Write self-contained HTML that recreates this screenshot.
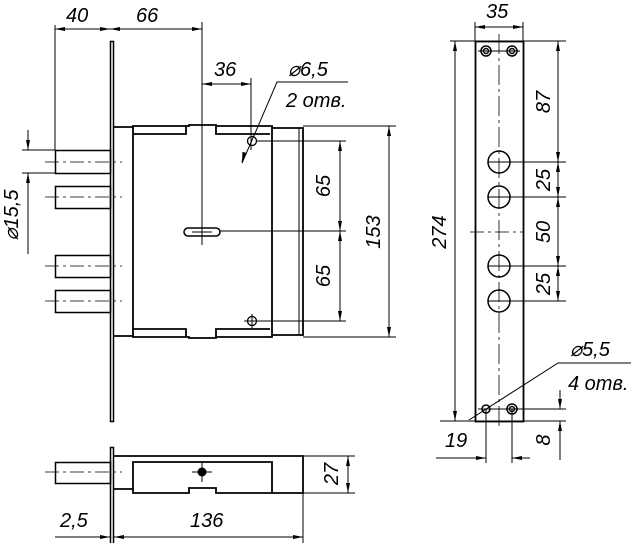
<!DOCTYPE html>
<html><head><meta charset="utf-8"><style>
html,body{margin:0;padding:0;background:#fff;}
svg{display:block}
text{font-family:"Liberation Sans",sans-serif;font-style:italic;font-size:20px;fill:#000;}
</style></head><body>
<svg width="631" height="543" viewBox="0 0 631 543" xmlns="http://www.w3.org/2000/svg">
<defs>
<marker id="a" viewBox="0 0 10 4" refX="10" refY="2" markerWidth="10" markerHeight="4" orient="auto-start-reverse" markerUnits="userSpaceOnUse"><path d="M0,0L10,2L0,4z" fill="#000"/></marker>
</defs>
<g fill="none" stroke="#000" stroke-width="1">
<!-- main plate -->
<rect x="110.5" y="41.5" width="3" height="380" stroke-width="1.5"/>
<!-- bolts -->
<rect x="55.5" y="150.5" width="55" height="23" stroke-width="1.5"/>
<rect x="55.5" y="186.5" width="55" height="22" stroke-width="1.5"/>
<rect x="55.5" y="255.5" width="55" height="22" stroke-width="1.5"/>
<rect x="55.5" y="290.5" width="55" height="22" stroke-width="1.5"/>
<g stroke-dasharray="14,4,3,4" stroke-width="0.8">
<line x1="45" y1="162" x2="122" y2="162"/><line x1="45" y1="197" x2="122" y2="197"/>
<line x1="45" y1="266" x2="122" y2="266"/><line x1="45" y1="301" x2="122" y2="301"/>
</g>
<!-- body -->
<g stroke-width="1.8">
<line x1="114" y1="127" x2="133" y2="127"/><line x1="114" y1="336" x2="133" y2="336"/>
<path d="M133,337V126H189V125H216V126H272V337H216V338H189V337Z"/>
<path d="M133,134H186V126M216,126V134H270"/>
<path d="M133,329H186V337M216,337V329H270"/>
<path d="M272,128H303V335H272"/>
<line x1="299" y1="128" x2="299" y2="335" stroke-width="1"/>
</g>
<!-- keyhole -->
<rect x="184" y="228" width="36" height="8" rx="4" stroke-width="1.5"/>
<path d="M192,232H212" stroke-width="1"/>
<circle cx="252" cy="141" r="4.5" stroke-width="1.3"/>
<circle cx="252" cy="321" r="4.5" stroke-width="1.3"/>
<line x1="244" y1="321" x2="262" y2="321"/><line x1="252" y1="314" x2="252" y2="328"/>
<!-- dims top -->
<line x1="55" y1="25" x2="55" y2="150"/>
<line x1="202" y1="22" x2="202" y2="245"/>
<line x1="55" y1="29" x2="110" y2="29" marker-start="url(#a)" marker-end="url(#a)"/>
<line x1="110" y1="29" x2="202" y2="29" marker-start="url(#a)" marker-end="url(#a)"/>
<line x1="251" y1="78" x2="251" y2="150"/>
<line x1="202" y1="84" x2="251" y2="84" marker-start="url(#a)" marker-end="url(#a)"/>
<path d="M242,163L256,131M256,131L277,82H348"/>
<path d="M244,154L242,162" marker-end="url(#a)"/>
<!-- 15.5 -->
<line x1="22" y1="150" x2="55" y2="150"/><line x1="22" y1="173" x2="55" y2="173"/>
<line x1="28" y1="130" x2="28" y2="150" marker-end="url(#a)"/>
<line x1="28" y1="254" x2="28" y2="173" marker-end="url(#a)"/>
<!-- 65/153 -->
<line x1="256" y1="141" x2="346" y2="141"/><line x1="220" y1="231" x2="346" y2="231"/><line x1="256" y1="321" x2="346" y2="321"/>
<line x1="340" y1="141" x2="340" y2="231" marker-start="url(#a)" marker-end="url(#a)"/>
<line x1="340" y1="231" x2="340" y2="321" marker-start="url(#a)" marker-end="url(#a)"/>
<line x1="303" y1="126" x2="396" y2="126"/><line x1="303" y1="337" x2="396" y2="337"/>
<line x1="389" y1="126" x2="389" y2="337" marker-start="url(#a)" marker-end="url(#a)"/>
<!-- bottom view -->
<rect x="110.5" y="447.5" width="3" height="100" stroke-width="1.5"/>
<g stroke-width="1.8">
<path d="M114,456H303V493H272"/>
<path d="M114,489H133"/>
<path d="M133,462H272V493H216V488H189V493H133Z"/>
</g>
<rect x="55.5" y="462.5" width="55" height="21" stroke-width="1.5"/>
<line x1="45" y1="472" x2="122" y2="472" stroke-dasharray="14,4,3,4" stroke-width="0.8"/>
<circle cx="202" cy="472" r="4" fill="#000"/>
<line x1="192" y1="472" x2="212" y2="472"/><line x1="202" y1="462" x2="202" y2="482"/>
<line x1="303" y1="456" x2="355" y2="456"/><line x1="303" y1="493" x2="355" y2="493"/>
<line x1="348" y1="456" x2="348" y2="493" marker-start="url(#a)" marker-end="url(#a)"/>
<line x1="303" y1="493" x2="303" y2="543"/>
<line x1="55" y1="537" x2="110" y2="537" marker-end="url(#a)"/>
<line x1="114" y1="537" x2="303" y2="537" marker-start="url(#a)" marker-end="url(#a)"/>
<!-- strip -->
<rect x="475.5" y="41.5" width="48" height="380" stroke-width="1.8"/>
<line x1="499" y1="34" x2="499" y2="428" stroke-dasharray="20,4,3,4" stroke-width="0.8"/>
<line x1="470" y1="232" x2="523" y2="232" stroke-dasharray="14,4,3,4" stroke-width="0.8"/>
<g stroke-width="1.5">
<circle cx="486" cy="51" r="5"/><circle cx="486" cy="51" r="2.5"/>
<circle cx="512" cy="51" r="5"/><circle cx="512" cy="51" r="2.5"/>
<circle cx="486" cy="409" r="4"/>
<circle cx="512" cy="409" r="5"/><circle cx="512" cy="409" r="2.5"/>
<circle cx="499" cy="162" r="11"/><circle cx="499" cy="197" r="11"/>
<circle cx="499" cy="266" r="11"/><circle cx="499" cy="301" r="11"/>
</g>
<line x1="478" y1="51" x2="520" y2="51"/><line x1="478" y1="409" x2="566" y2="409"/>
<line x1="475" y1="22" x2="475" y2="41"/><line x1="523" y1="22" x2="523" y2="41"/>
<line x1="475" y1="27" x2="523" y2="27" marker-start="url(#a)" marker-end="url(#a)"/>
<line x1="450" y1="41" x2="566" y2="41"/><line x1="440" y1="421" x2="566" y2="421"/>
<line x1="455" y1="41" x2="455" y2="421" marker-start="url(#a)" marker-end="url(#a)"/>
<line x1="488" y1="162" x2="566" y2="162"/><line x1="488" y1="197" x2="566" y2="197"/>
<line x1="488" y1="266" x2="566" y2="266"/><line x1="488" y1="301" x2="566" y2="301"/>
<line x1="558" y1="41" x2="558" y2="162" marker-start="url(#a)" marker-end="url(#a)"/>
<line x1="558" y1="162" x2="558" y2="197" marker-start="url(#a)" marker-end="url(#a)"/>
<line x1="558" y1="197" x2="558" y2="266" marker-start="url(#a)" marker-end="url(#a)"/>
<line x1="558" y1="266" x2="558" y2="301" marker-start="url(#a)" marker-end="url(#a)"/>
<line x1="560" y1="390" x2="560" y2="409" marker-end="url(#a)"/>
<line x1="560" y1="460" x2="560" y2="421" marker-end="url(#a)"/>
<line x1="486" y1="409" x2="486" y2="463"/><line x1="512" y1="409" x2="512" y2="463"/>
<line x1="436" y1="458" x2="486" y2="458" marker-end="url(#a)"/>
<line x1="530" y1="458" x2="512" y2="458" marker-end="url(#a)"/>
<path d="M469,420L558,363H631"/>
</g>
<text x="66" y="22">40</text>
<text x="136" y="22">66</text>
<text x="214" y="76">36</text>
<text x="288" y="76">⌀6,5</text>
<text x="286" y="107" font-size="18">2 отв.</text>
<text transform="translate(18,215) rotate(-90)" text-anchor="middle">⌀15,5</text>
<text transform="translate(330,186) rotate(-90)" text-anchor="middle">65</text>
<text transform="translate(330,276) rotate(-90)" text-anchor="middle">65</text>
<text transform="translate(380,232) rotate(-90)" text-anchor="middle">153</text>
<text transform="translate(338,474) rotate(-90)" text-anchor="middle">27</text>
<text x="60" y="527">2,5</text>
<text x="190" y="527">136</text>
<text x="486" y="18">35</text>
<text transform="translate(446,232) rotate(-90)" text-anchor="middle">274</text>
<text transform="translate(550,102) rotate(-90)" text-anchor="middle">87</text>
<text transform="translate(550,180) rotate(-90)" text-anchor="middle">25</text>
<text transform="translate(550,232) rotate(-90)" text-anchor="middle">50</text>
<text transform="translate(550,284) rotate(-90)" text-anchor="middle">25</text>
<text transform="translate(550,440) rotate(-90)" text-anchor="middle">8</text>
<text x="445" y="447">19</text>
<text x="570" y="356">⌀5,5</text>
<text x="568" y="390" font-size="18">4 отв.</text>
</svg>
</body></html>
